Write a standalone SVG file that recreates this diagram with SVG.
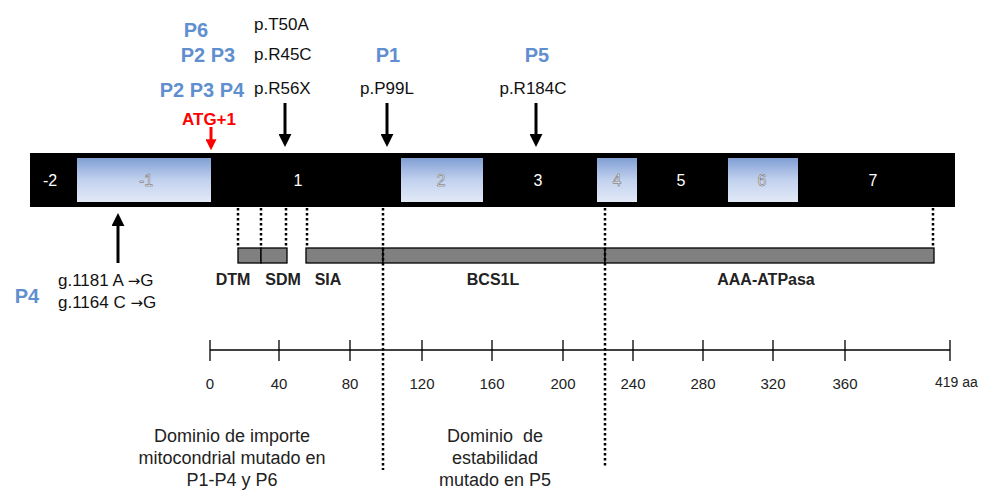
<svg xmlns="http://www.w3.org/2000/svg" width="991" height="492" viewBox="0 0 991 492">
<defs>
<linearGradient id="exg" x1="0" y1="0" x2="0" y2="1">
<stop offset="0" stop-color="#809fd4"/>
<stop offset="0.5" stop-color="#c2d1ee"/>
<stop offset="1" stop-color="#e3eaf7"/>
</linearGradient>
<marker id="ahB" viewBox="0 0 10 10" refX="7" refY="5" markerWidth="13" markerHeight="13" markerUnits="userSpaceOnUse" orient="auto">
<path d="M0,0 L10,5 L0,10 Z" fill="#000"/>
</marker>
<marker id="ahR" viewBox="0 0 10 10" refX="7" refY="5" markerWidth="11" markerHeight="11" markerUnits="userSpaceOnUse" orient="auto">
<path d="M0,0 L10,5 L0,10 Z" fill="#f00"/>
</marker>
</defs>
<style>
text{font-family:"Liberation Sans",Arial,sans-serif;}
.blue{fill:#5f8fcf;font-weight:bold;font-size:20px;}
.mut{fill:#111;font-size:17px;}
.arw{font-family:"DejaVu Sans",sans-serif;font-size:15px;}
.ex{fill:#fff;font-size:16px;text-anchor:middle;}
.exl{fill:#f2f2f2;stroke:#666;stroke-width:0.5;font-size:16px;text-anchor:middle;}
.dom{fill:#222;font-size:16px;font-weight:bold;text-anchor:middle;}
.ax{fill:#222;font-size:15px;text-anchor:middle;}
.cap{fill:#222;font-size:18px;text-anchor:middle;}
.dot{stroke:#000;stroke-width:2.5;stroke-dasharray:2.5,2.5;fill:none;}
.bar{fill:#808080;stroke:#000;stroke-width:1.3;}
.arr{stroke:#000;stroke-width:3;fill:none;}
</style>

<g id="exon-bar">
<rect x="30" y="153" width="925" height="54" fill="#000"/>
<rect x="77" y="158" width="134" height="44" fill="url(#exg)"/>
<rect x="401" y="158" width="82" height="44" fill="url(#exg)"/>
<rect x="597" y="158" width="40" height="44" fill="url(#exg)"/>
<rect x="728" y="158" width="70" height="44" fill="url(#exg)"/>
<text class="ex" x="50" y="186">-2</text>
<text class="exl" x="146" y="186">-1</text>
<text class="ex" x="298" y="186">1</text>
<text class="exl" x="441" y="186">2</text>
<text class="ex" x="538" y="186">3</text>
<text class="exl" x="617" y="186">4</text>
<text class="ex" x="681" y="186">5</text>
<text class="exl" x="762" y="186">6</text>
<text class="ex" x="873" y="186">7</text>
</g>

<g id="domains">
<rect class="bar" x="238" y="248" width="23" height="15"/>
<rect class="bar" x="261" y="248" width="26" height="15"/>
<rect class="bar" x="306" y="248" width="77" height="15"/>
<rect class="bar" x="383" y="248" width="222" height="15"/>
<rect class="bar" x="605" y="248" width="329" height="15"/>
<text class="dom" x="233" y="285">DTM</text>
<text class="dom" x="283" y="285">SDM</text>
<text class="dom" x="328" y="285">SIA</text>
<text class="dom" x="493" y="285">BCS1L</text>
<text class="dom" x="766" y="285">AAA-ATPasa</text>
</g>

<g id="connectors">
<line class="dot" x1="238" y1="208" x2="238" y2="247"/>
<line class="dot" x1="261" y1="208" x2="261" y2="247"/>
<line class="dot" x1="286" y1="208" x2="286" y2="247"/>
<line class="dot" x1="307" y1="208" x2="307" y2="247"/>
<line class="dot" x1="933" y1="208" x2="933" y2="247"/>
<line class="dot" x1="383" y1="208" x2="383" y2="470"/>
<line class="dot" x1="605" y1="208" x2="605" y2="468"/>
<line class="arr" x1="285" y1="103" x2="285" y2="143" marker-end="url(#ahB)"/>
<line class="arr" x1="387" y1="103" x2="387" y2="143" marker-end="url(#ahB)"/>
<line class="arr" x1="536" y1="103" x2="536" y2="143" marker-end="url(#ahB)"/>
<line class="arr" x1="118" y1="263" x2="118" y2="217" marker-end="url(#ahB)"/>
<line stroke="#f00" stroke-width="3" x1="211" y1="127" x2="211" y2="147" marker-end="url(#ahR)"/>
</g>

<g id="mutations">
<text class="blue" x="196" y="37" text-anchor="middle">P6</text>
<text class="mut" x="254" y="30">p.T50A</text>
<text class="blue" x="208" y="62" text-anchor="middle">P2 P3</text>
<text class="mut" x="254" y="60">p.R45C</text>
<text class="blue" x="202" y="97" text-anchor="middle">P2 P3 P4</text>
<text class="mut" x="254" y="94">p.R56X</text>
<text class="blue" x="388" y="62" text-anchor="middle">P1</text>
<text class="mut" x="387" y="94" text-anchor="middle">p.P99L</text>
<text class="blue" x="537" y="62" text-anchor="middle">P5</text>
<text class="mut" x="533" y="94" text-anchor="middle">p.R184C</text>
<text x="209" y="125" text-anchor="middle" fill="#f00" font-weight="bold" font-size="17">ATG+1</text>
<text class="blue" x="27" y="303" text-anchor="middle">P4</text>
<text class="mut" x="58" y="286">g.1181 A <tspan class="arw">→</tspan>G</text>
<text class="mut" x="58" y="308">g.1164 C <tspan class="arw">→</tspan>G</text>
</g>

<g id="axis">
<line x1="210" y1="350" x2="950" y2="350" stroke="#000" stroke-width="1.3"/>
<g stroke="#000" stroke-width="1.3">
<line x1="210" y1="340" x2="210" y2="361"/>
<line x1="279" y1="340" x2="279" y2="361"/>
<line x1="350" y1="340" x2="350" y2="361"/>
<line x1="422" y1="340" x2="422" y2="361"/>
<line x1="492" y1="340" x2="492" y2="361"/>
<line x1="563" y1="340" x2="563" y2="361"/>
<line x1="633" y1="340" x2="633" y2="361"/>
<line x1="703" y1="340" x2="703" y2="361"/>
<line x1="773" y1="340" x2="773" y2="361"/>
<line x1="845" y1="340" x2="845" y2="361"/>
<line x1="950" y1="340" x2="950" y2="361"/>
</g>
<text class="ax" x="210" y="389">0</text>
<text class="ax" x="279" y="389">40</text>
<text class="ax" x="350" y="389">80</text>
<text class="ax" x="422" y="389">120</text>
<text class="ax" x="492" y="389">160</text>
<text class="ax" x="563" y="389">200</text>
<text class="ax" x="633" y="389">240</text>
<text class="ax" x="703" y="389">280</text>
<text class="ax" x="773" y="389">320</text>
<text class="ax" x="845" y="389">360</text>
<text x="935" y="387" fill="#222" font-size="14">419 aa</text>
</g>

<g id="captions">
<text class="cap" x="232" y="442">Dominio de importe</text>
<text class="cap" x="232" y="464">mitocondrial mutado en</text>
<text class="cap" x="232" y="486">P1-P4 y P6</text>
<text class="cap" x="495" y="442" xml:space="preserve">Dominio  de</text>
<text class="cap" x="495" y="464">estabilidad</text>
<text class="cap" x="495" y="486">mutado en P5</text>
</g>
</svg>
